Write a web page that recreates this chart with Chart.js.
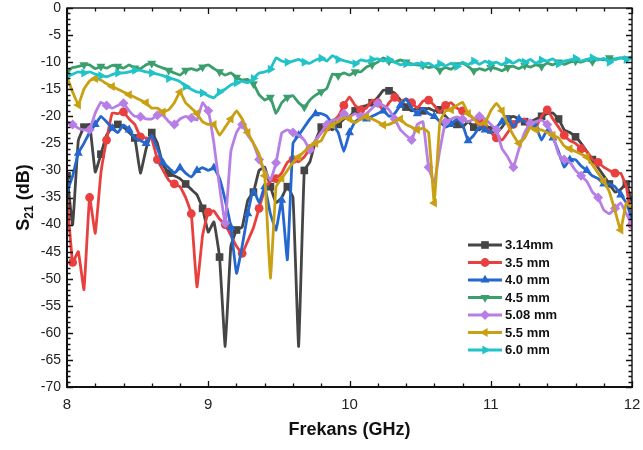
<!DOCTYPE html>
<html>
<head>
<meta charset="utf-8">
<script src="https://cdn.jsdelivr.net/npm/chart.js@4/dist/chart.umd.min.js"></script>
<style>
  html, body { margin: 0; padding: 0; background: #fff; }
  #wrap { width: 643px; height: 450px; position: relative; }
</style>
</head>
<body>
<div id="wrap"><canvas id="c" width="643" height="450"></canvas></div>
<script>
// Frequency sweep (GHz)
const freqGHz = [
  8.00, 8.04, 8.08, 8.12, 8.16, 8.20, 8.24, 8.28, 8.32, 8.36,
  8.40, 8.44, 8.48, 8.52, 8.56, 8.60, 8.64, 8.68, 8.72, 8.76,
  8.80, 8.84, 8.88, 8.92, 8.96, 9.00, 9.04, 9.08, 9.12, 9.16,
  9.20, 9.24, 9.28, 9.32, 9.36, 9.40, 9.44, 9.48, 9.52, 9.56,
  9.60, 9.64, 9.68, 9.72, 9.76, 9.80, 9.84, 9.88, 9.92, 9.96,
  10.00, 10.04, 10.08, 10.12, 10.16, 10.20, 10.24, 10.28, 10.32, 10.36,
  10.40, 10.44, 10.48, 10.52, 10.56, 10.60, 10.64, 10.68, 10.72, 10.76,
  10.80, 10.84, 10.88, 10.92, 10.96, 11.00, 11.04, 11.08, 11.12, 11.16,
  11.20, 11.24, 11.28, 11.32, 11.36, 11.40, 11.44, 11.48, 11.52, 11.56,
  11.60, 11.64, 11.68, 11.72, 11.76, 11.80, 11.84, 11.88, 11.92, 11.96,
  12.00
];

// S21 (dB) for each sample thickness
const s21_314 = [
  -31, -40, -24.5, -22, -21.5, -30.3, -27, -23.5, -22, -21.5,
  -22, -23, -24, -30.5, -26, -23, -25, -29, -30.5, -31,
  -31.5, -32.5, -33.5, -34.5, -37, -41.4, -39.5, -46, -62.5, -44,
  -41, -40.5, -35.5, -34, -30, -29.4, -33, -36, -35, -33,
  -35, -62.5, -30, -28.4, -24.5, -22, -22, -22.5, -21.5, -20.5,
  -20, -19, -18.3, -18, -17.5, -16.5, -15.2, -15.3, -15.7, -17,
  -18.3, -19, -18.5, -19, -18.5, -19, -18.8, -20, -21, -21.5,
  -22, -21, -22, -22.5, -21.5, -22.5, -23, -22, -20.5, -20,
  -20.5, -21, -21, -20.5, -20, -19.5, -19.4, -20.5, -22.5, -23,
  -23.8, -25, -26.5, -28, -29.5, -31, -32.5, -34, -33.5, -32.5,
  -36
];
const s21_35 = [
  -35, -47, -45, -52, -35, -41.6, -30.5, -24.4, -19.4, -19.5,
  -19.2, -20.5, -21.5, -23.8, -24, -24.2, -28, -30, -31.8, -32.5,
  -33, -35, -38, -51.5, -42, -37.7, -37.5, -39, -40, -42,
  -44, -45.3, -43, -40.6, -37, -33.5, -32, -31.5, -30.5, -28.5,
  -28, -28.4, -27.5, -26, -24.5, -23, -22, -21, -20, -18,
  -16.4, -18, -18.8, -18.5, -17, -17.5, -19, -17.5, -16.5, -17.3,
  -16.8, -17.5, -18.5, -17.2, -17, -18, -19.3, -18, -17.5, -18.5,
  -19, -19.5, -20.5, -21, -22, -23, -24, -24.4, -23, -21.5,
  -21, -20.5, -21.5, -22, -20, -18.8, -20.5, -22, -23.5, -24.5,
  -25, -26, -26.5, -28, -28.5, -29.4, -30, -30.5, -30.5, -33,
  -40
];
const s21_40 = [
  -34, -31, -26.8, -25, -23, -21.5, -20, -21, -22.2, -23,
  -21.6, -22.5, -24, -24.5, -25, -23.5, -26, -28.6, -29.5, -30.5,
  -29.5, -30.5, -31.2, -30, -29.5, -30, -29.5, -31.5, -35.5, -40.5,
  -49, -44, -38, -33.5, -36, -33, -38, -41, -35.5, -46.5,
  -25, -23.5, -22, -20.5, -19.5, -19.5, -20, -21.5, -23, -26.5,
  -23, -21, -20.3, -20.5, -20, -19.5, -19, -20, -19.5, -18,
  -16.8, -18.5, -19.5, -18.5, -19.5, -20, -21, -22, -21.5, -20.5,
  -21.5, -24.5, -23.5, -22, -22.5, -23, -22, -21, -20.1, -22,
  -20.5, -21, -21.5, -22, -24.4, -22.5, -24, -26.5, -29.4, -28,
  -28, -29.2, -30, -31, -31.5, -32.5, -32.5, -33, -34.5, -36,
  -39
];
const s21_45 = [
  -11.8, -11, -10.8, -10.5, -10.5, -11.2, -10.8, -11.1, -10.6, -10.8,
  -11.1, -10.5, -11.1, -11.2, -10.5, -10.2, -10.7, -11.1, -11.5, -12,
  -12.4, -11.5, -11.2, -11.5, -10.9, -10.5, -11.2, -11.8, -12.4, -12,
  -12.8, -13.3, -13.2, -14, -16, -17, -16.5, -19.5, -17.5, -16.5,
  -16.2, -17.5, -18.3, -17, -16.1, -15.5, -14.8, -12.2, -12.5, -12,
  -12.4, -11.8, -11.8, -10.9, -10.5, -10, -9.2, -9.8, -10, -9.6,
  -10, -10.3, -10.5, -10.6, -11, -10.8, -11.5, -11, -11.3, -10.5,
  -10.2, -10.8, -11.6, -11.2, -11.5, -11, -11.2, -11.6, -11, -10.8,
  -11.2, -10.6, -10.9, -10.5, -10.8, -10.2, -10.5, -10, -10.4, -10,
  -9.8, -10, -9.6, -9.9, -9.4, -9.6, -9.2, -9.5, -9.2, -9.4,
  -9
];
const s21_508 = [
  -21, -21.5, -22.2, -22.5, -22.5, -19.4, -17.4, -18, -18.5, -18,
  -17.6, -19, -20, -20.1, -20.5, -20.5, -19.8, -19.8, -21, -21.5,
  -20.5, -20, -20.3, -20.7, -17.5, -19, -25, -33, -39.7, -26.5,
  -23, -21.5, -23.5, -25, -28, -30, -31.8, -28.6, -23.1, -22.5,
  -23, -23.5, -24.4, -26.2, -24.4, -23, -21.5, -20.7, -20.5, -19.5,
  -20.1, -19.5, -20, -19.5, -18.5, -17.6, -18, -18.8, -20.5, -22.5,
  -23.5, -24.4, -21.5, -21, -29.4, -32.3, -26.2, -21, -20.5, -20.1,
  -20.5, -21, -20.5, -20, -20.5, -21.5, -22.5, -26, -27.5, -29.4,
  -26, -23, -21.3, -21, -20.7, -21.5, -23.5, -27, -28, -28.5,
  -30, -31, -32, -34, -35, -37.3, -38, -37, -36, -38,
  -40
];
const s21_55 = [
  -12.8, -15.5, -17.9, -15, -13.5, -13, -13.3, -14, -14.5, -15,
  -15.5, -16, -16.5, -17, -17.5, -18.5, -18.5, -19.2, -18.8, -17.5,
  -15.5, -17.5, -18.5, -19.5, -21, -21.5, -21.5, -23.5, -22, -20.5,
  -19, -20.5, -23, -25, -27, -31, -49.9, -33, -31.5, -30,
  -28.5, -27.5, -26.5, -25.5, -25, -24.5, -22.5, -21.6, -21, -20.3,
  -20.5, -21.2, -20.5, -20.1, -20.5, -21, -21.6, -21.5, -21, -20.5,
  -21.5, -22, -22.5, -22.2, -23, -36, -21, -19, -18.8, -18,
  -17.4, -19.5, -20.5, -21.5, -21.2, -19, -17.6, -19, -21.5, -23.5,
  -25, -24, -22, -22.5, -22.5, -23, -23.5, -24, -25.5, -26,
  -26.5, -27, -27.5, -29, -30.5, -32, -34, -37.5, -41, -36,
  -37
];
const s21_60 = [
  -12.5, -12.2, -11.8, -12, -11.8, -12.2, -12.5, -12.7, -12.3, -12,
  -12, -11.8, -11.5, -11.5, -11.8, -12, -12.2, -12.5, -13, -13.2,
  -13.6, -14.5, -15, -15.5, -15.7, -16.2, -16.6, -15.5, -15, -14.2,
  -13.8, -13.5, -13.8, -13, -12, -11.8, -11.3, -9.2, -9.8, -10,
  -9.8, -9.5, -10, -10.2, -9.6, -9.3, -9.8, -8.8, -9.5, -9.7,
  -10, -10.3, -9.6, -9.8, -9.5, -9.4, -9.8, -9.5, -10, -10.5,
  -10.3, -10.5, -10.2, -10.5, -10.2, -10.8, -10.3, -10.7, -10.2, -10.8,
  -10, -10.5, -9.8, -10.4, -9.8, -10.3, -10, -10.5, -9.8, -10.2,
  -9.6, -10, -9.5, -10.2, -9.6, -9.8, -9.4, -10.3, -9.8, -9.6,
  -9.3, -9.8, -9.5, -9.2, -9.6, -9.3, -10, -9.4, -9.2, -9.5,
  -9
];

const seriesLabels = ['3.14mm', '3.5 mm', '4.0 mm', '4.5 mm', '5.08 mm', '5.5 mm', '6.0 mm'];
const seriesValues = [s21_314, s21_35, s21_40, s21_45, s21_508, s21_55, s21_60];

const styles = [
  { color: '#454545', pointStyle: 'rect',     rotation: 0,   radius: 5.4 },
  { color: '#e8403f', pointStyle: 'circle',   rotation: 0,   radius: 4.4 },
  { color: '#2467cf', pointStyle: 'triangle', rotation: 0,   radius: 5.2 },
  { color: '#3a9f6c', pointStyle: 'triangle', rotation: 180, radius: 5.2 },
  { color: '#b77fe6', pointStyle: 'rectRot',  rotation: 0,   radius: 5 },
  { color: '#c9a012', pointStyle: 'triangle', rotation: -90, radius: 5.2 },
  { color: '#22c3c8', pointStyle: 'triangle', rotation: 90,  radius: 5.2 }
];

const FONT = '"Liberation Sans", Arial, Helvetica, sans-serif';
const MARK_EVERY = 3;

const datasets = seriesValues.map((vals, i) => {
  const st = styles[i];
  return {
    label: seriesLabels[i],
    data: freqGHz.map((f, k) => ({ x: f, y: vals[k] })),
    borderColor: st.color,
    backgroundColor: st.color,
    borderWidth: 2.8,
    tension: 0.1,
    pointStyle: st.pointStyle,
    pointRotation: st.rotation,
    pointBorderWidth: 0,
    pointRadius: ctx => (ctx.dataIndex % MARK_EVERY === (i % MARK_EVERY)) ? st.radius : 0,
    pointHoverRadius: 0,
    order: seriesValues.length - i
  };
});

// Keep the plot box fixed: no extra room reserved for overhanging tick labels
const noOverhang = s => {
  s.paddingTop = 0; s.paddingBottom = 0; s.paddingLeft = 0; s.paddingRight = 0;
};

// Box frame with inward major/minor ticks on all four sides
const framePlugin = {
  id: 'frame',
  afterDatasetsDraw(chart) {
    const { ctx, chartArea: a, scales } = chart;
    const x = scales.x, y = scales.y;
    ctx.save();
    ctx.strokeStyle = '#111';
    ctx.lineWidth = 1.4;
    ctx.strokeRect(a.left, a.top, a.right - a.left, a.bottom - a.top);
    ctx.lineWidth = 2;
    ctx.beginPath();
    ctx.moveTo(a.left - 1, a.bottom); ctx.lineTo(a.right + 1, a.bottom);
    ctx.moveTo(a.left, a.top); ctx.lineTo(a.left, a.bottom + 1);
    ctx.stroke();
    ctx.lineWidth = 1.3;
    ctx.beginPath();
    for (let k = 0; k <= 20; k++) {
      const px = Math.round(x.getPixelForValue(x.min + k * 0.2)) + 0.5;
      const len = k % 5 === 0 ? 6 : 3.5;
      ctx.moveTo(px, a.bottom); ctx.lineTo(px, a.bottom - len);
      ctx.moveTo(px, a.top); ctx.lineTo(px, a.top + len);
    }
    for (let k = 0; k <= 70; k++) {
      const py = Math.round(y.getPixelForValue(y.max - k)) + 0.5;
      const len = k % 5 === 0 ? 6 : 3.5;
      ctx.moveTo(a.left, py); ctx.lineTo(a.left + len, py);
      ctx.moveTo(a.right, py); ctx.lineTo(a.right - len, py);
    }
    ctx.stroke();
    ctx.restore();
  }
};

// Axis titles (y title carries a subscript)
const titlePlugin = {
  id: 'titles',
  afterDraw(chart) {
    const { ctx, chartArea: a } = chart;
    ctx.save();
    ctx.fillStyle = '#111';
    ctx.textBaseline = 'middle';
    ctx.textAlign = 'center';
    ctx.font = 'bold 18px ' + FONT;
    ctx.fillText('Frekans (GHz)', (a.left + a.right) / 2, 430);

    ctx.translate(22, (a.top + a.bottom) / 2);
    ctx.rotate(-Math.PI / 2);
    ctx.textAlign = 'left';
    ctx.textBaseline = 'alphabetic';
    const big = 'bold 18px ' + FONT, small = 'bold 12px ' + FONT;
    ctx.font = big; const wS = ctx.measureText('S').width;
    const wT = ctx.measureText(' (dB)').width;
    ctx.font = small; const wSub = ctx.measureText('21').width;
    let x0 = -(wS + wSub + wT) / 2;
    const base = 6.5;
    ctx.font = big; ctx.fillText('S', x0, base); x0 += wS;
    ctx.font = small; ctx.fillText('21', x0, base + 4); x0 += wSub;
    ctx.font = big; ctx.fillText(' (dB)', x0, base);
    ctx.restore();
  }
};

// Legend drawn inside the plot area
const legendPlugin = {
  id: 'legendInside',
  afterDatasetsDraw(chart) {
    const { ctx, chartArea: a } = chart;
    const x0 = a.left + 401, x1 = a.left + 435, xm = (x0 + x1) / 2;
    const y0 = a.top + 237, dy = 17.5;
    ctx.save();
    chart.data.datasets.forEach((ds, i) => {
      const st = styles[i];
      const yy = y0 + i * dy;
      ctx.strokeStyle = st.color;
      ctx.fillStyle = st.color;
      ctx.lineWidth = 2.8;
      ctx.beginPath(); ctx.moveTo(x0, yy); ctx.lineTo(x1, yy); ctx.stroke();
      if (Chart.helpers && Chart.helpers.drawPoint) {
        Chart.helpers.drawPoint(ctx, { pointStyle: st.pointStyle, rotation: st.rotation, radius: st.radius, borderWidth: 0 }, xm, yy);
      }
      ctx.fillStyle = '#111';
      ctx.font = 'bold 13px ' + FONT;
      ctx.textBaseline = 'middle';
      ctx.textAlign = 'left';
      ctx.fillText(ds.label, x1 + 3, yy + 0.5);
    });
    ctx.restore();
  }
};

new Chart(document.getElementById('c'), {
  type: 'line',
  data: { datasets },
  options: {
    responsive: false,
    animation: false,
    devicePixelRatio: 1,
    layout: { padding: { top: 8, right: 11, left: 0, bottom: 0 } },
    plugins: { legend: { display: false }, tooltip: { enabled: false } },
    scales: {
      x: {
        type: 'linear', min: 8, max: 12,
        grid: { display: false, drawTicks: false },
        border: { display: false },
        ticks: { stepSize: 1, padding: 9, color: '#222', font: { family: FONT, size: 15 }, maxRotation: 0 },
        afterFit: s => { s.height = 63; noOverhang(s); }
      },
      y: {
        min: -70, max: 0,
        grid: { display: false, drawTicks: false },
        border: { display: false },
        ticks: { stepSize: 5, padding: 6, color: '#222', font: { family: FONT, size: 14 } },
        afterFit: s => { s.width = 67; noOverhang(s); }
      }
    }
  },
  plugins: [framePlugin, legendPlugin, titlePlugin]
});
</script>
</body>
</html>
